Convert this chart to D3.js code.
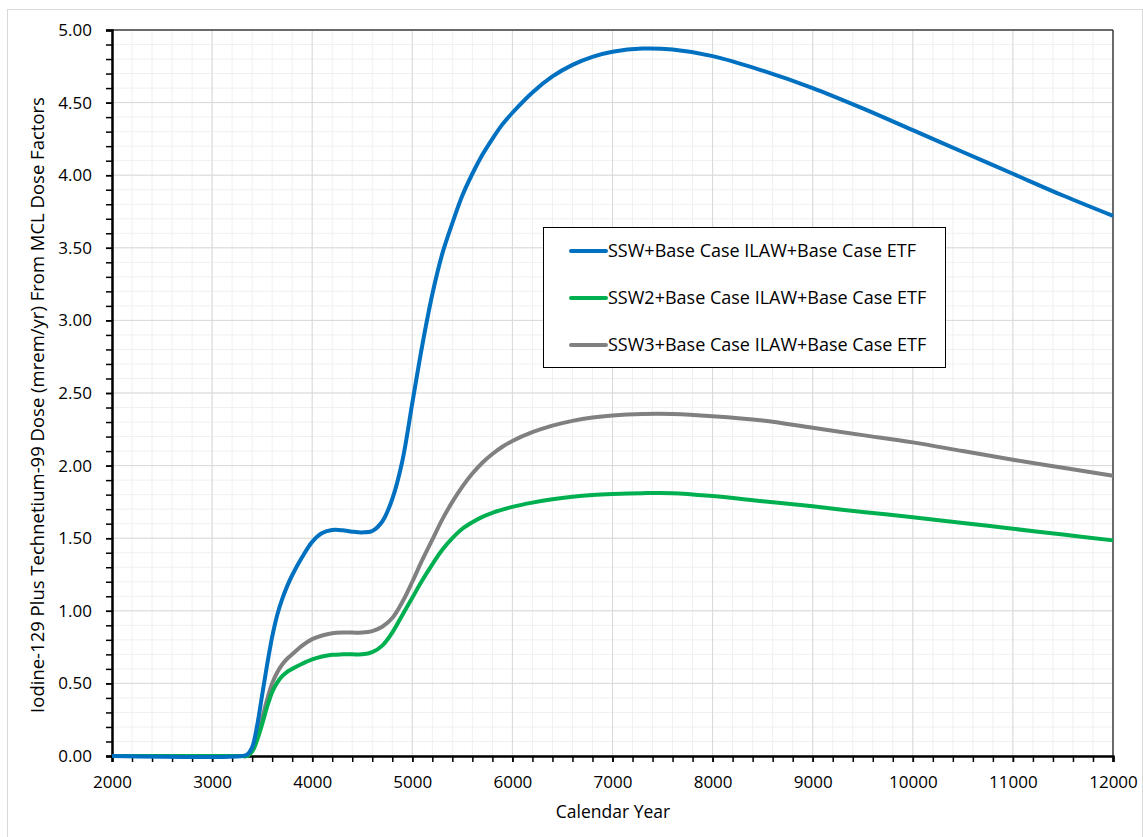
<!DOCTYPE html>
<html>
<head>
<meta charset="utf-8">
<script src="https://cdn.jsdelivr.net/npm/d3@7"></script>
<style>
  body { margin: 0; background: #fff; }
  svg text { font-family: "Open Sans", "Noto Sans", sans-serif; fill: #000; }
</style>
</head>
<body>
<div id="chart"></div>
<script>
// data
const years = [2000, 3300, 3350, 3400, 3450, 3500, 3550, 3600, 3650, 3700, 3750, 3800, 3900, 4000, 4100, 4200, 4300, 4400, 4500, 4600, 4700, 4800, 4900, 5000, 5100, 5200, 5300, 5400, 5500, 5600, 5700, 5800, 5900, 6000, 6200, 6400, 6600, 6800, 7000, 7300, 7600, 8000, 8500, 9000, 9500, 10000, 10500, 11000, 11500, 12000];
const ssw  = [0, 0, 0.01, 0.06, 0.21, 0.42, 0.63, 0.82, 0.97, 1.08, 1.17, 1.245, 1.37, 1.475, 1.535, 1.556, 1.555, 1.545, 1.54, 1.55, 1.615, 1.77, 2.03, 2.43, 2.83, 3.18, 3.46, 3.67, 3.86, 4.01, 4.14, 4.25, 4.35, 4.43, 4.57, 4.68, 4.76, 4.815, 4.85, 4.872, 4.865, 4.82, 4.72, 4.60, 4.46, 4.31, 4.16, 4.01, 3.86, 3.72];
const ssw2 = [0, 0, 0, 0.03, 0.11, 0.22, 0.34, 0.44, 0.505, 0.55, 0.58, 0.60, 0.635, 0.665, 0.685, 0.697, 0.70, 0.70, 0.70, 0.715, 0.76, 0.85, 0.97, 1.09, 1.21, 1.32, 1.42, 1.50, 1.565, 1.61, 1.647, 1.675, 1.697, 1.716, 1.745, 1.768, 1.785, 1.797, 1.804, 1.81, 1.81, 1.79, 1.755, 1.72, 1.68, 1.645, 1.605, 1.565, 1.525, 1.485];
const ssw3 = [0, 0, 0, 0.04, 0.14, 0.26, 0.39, 0.50, 0.575, 0.63, 0.67, 0.70, 0.76, 0.805, 0.83, 0.845, 0.85, 0.85, 0.85, 0.86, 0.89, 0.95, 1.06, 1.20, 1.35, 1.49, 1.63, 1.75, 1.855, 1.945, 2.02, 2.08, 2.13, 2.17, 2.23, 2.275, 2.308, 2.331, 2.345, 2.355, 2.355, 2.34, 2.31, 2.26, 2.21, 2.16, 2.10, 2.04, 1.985, 1.93];
const seriesNames = ["SSW+Base Case ILAW+Base Case ETF", "SSW2+Base Case ILAW+Base Case ETF", "SSW3+Base Case ILAW+Base Case ETF"];
const colors = ["#0070c0", "#00b050", "#808080"];
const xTicks = d3.range(2000, 12001, 1000);
const yTicks = d3.range(0, 5.001, 0.5);

const width = 1143, height = 837;
const margin = {top: 30, right: 30, bottom: 81, left: 112};

const svg = d3.select("#chart").append("svg")
  .attr("width", width)
  .attr("height", height);

// outer chart border
svg.append("rect")
  .attr("x", 7.5).attr("y", 9.5)
  .attr("width", width - 8).attr("height", height - 9)
  .attr("fill", "none").attr("stroke", "#d9d9d9");

const x = d3.scaleLinear().domain([2000, 12000]).range([margin.left, width - margin.right]);
const y = d3.scaleLinear().domain([0, 5]).range([height - margin.bottom, margin.top]);

// minor grid
const g = svg.append("g");
g.selectAll(".vmin").data(d3.range(2000, 12001, 200)).enter().append("line")
  .attr("x1", d => x(d)).attr("x2", d => x(d))
  .attr("y1", y(0)).attr("y2", y(5))
  .attr("stroke", "#f0f0f0");
g.selectAll(".hmin").data(d3.range(0, 5.001, 0.1)).enter().append("line")
  .attr("x1", x(2000)).attr("x2", x(12000))
  .attr("y1", d => y(d)).attr("y2", d => y(d))
  .attr("stroke", "#f0f0f0");
// major grid
g.selectAll(".vmaj").data(xTicks).enter().append("line")
  .attr("x1", d => x(d)).attr("x2", d => x(d))
  .attr("y1", y(0)).attr("y2", y(5))
  .attr("stroke", "#d9d9d9");
g.selectAll(".hmaj").data(yTicks).enter().append("line")
  .attr("x1", x(2000)).attr("x2", x(12000))
  .attr("y1", d => y(d)).attr("y2", d => y(d))
  .attr("stroke", "#d9d9d9");

// plot area frame (top + right)
svg.append("line").attr("x1", x(2000)).attr("x2", x(12000)).attr("y1", y(5)).attr("y2", y(5))
  .attr("stroke", "#404040").attr("stroke-width", 1.5);
svg.append("line").attr("x1", x(12000)).attr("x2", x(12000)).attr("y1", y(5)).attr("y2", y(0))
  .attr("stroke", "#404040").attr("stroke-width", 1.5);

// axes
const xAxis = svg.append("g").attr("transform", `translate(0,${y(0)})`)
  .call(d3.axisBottom(x).tickValues(d3.range(2000, 12001, 200)).tickSize(6).tickFormat(""));
const xLab = svg.append("g").attr("transform", `translate(0,${y(0)})`)
  .call(d3.axisBottom(x).tickValues(xTicks).tickSize(6).tickPadding(12).tickFormat(d3.format("d")));
const yAxis = svg.append("g").attr("transform", `translate(${x(2000)},0)`)
  .call(d3.axisLeft(y).tickValues(d3.range(0, 5.001, 0.1)).tickSize(6).tickFormat(""));
const yLab = svg.append("g").attr("transform", `translate(${x(2000)},0)`)
  .call(d3.axisLeft(y).tickValues(yTicks).tickSize(6).tickPadding(14).tickFormat(d3.format(".2f")));

[xAxis, xLab, yAxis, yLab].forEach(a => {
  a.selectAll(".domain").attr("stroke", "#000").attr("stroke-width", 2);
  a.selectAll(".tick line").attr("stroke", "#000").attr("stroke-width", 1.5);
  a.selectAll("text").attr("font-size", 17).attr("font-family", "Open Sans, sans-serif").attr("fill", "#000");
});
xLab.selectAll("text").attr("dy", "0.85em");

// lines
const line = d3.line().x((d, i) => x(years[i])).y(d => y(d)).curve(d3.curveCatmullRom.alpha(0.5));
[ssw3, ssw2, ssw].forEach((s, k) => {
  const idx = 2 - k;
  svg.append("path").datum(s)
    .attr("d", line)
    .attr("fill", "none")
    .attr("stroke", colors[idx])
    .attr("stroke-width", 4)
    .attr("stroke-linejoin", "round");
});

// axis titles
svg.append("text")
  .attr("x", 613).attr("y", 818)
  .attr("text-anchor", "middle").attr("font-size", 17.5)
  .text("Calendar Year");
svg.append("text")
  .attr("transform", `translate(44,405) rotate(-90)`)
  .attr("text-anchor", "middle").attr("font-size", 18.5)
  .text("Iodine-129 Plus Technetium-99 Dose (mrem/yr)  From MCL Dose Factors");

// legend
const lg = svg.append("g");
lg.append("rect")
  .attr("x", 543.5).attr("y", 227.5).attr("width", 402).attr("height", 140)
  .attr("fill", "#fff").attr("stroke", "#000");
seriesNames.forEach((name, i) => {
  const ly = 251 + i * 47;
  lg.append("line").attr("x1", 571).attr("x2", 606).attr("y1", ly).attr("y2", ly)
    .attr("stroke", colors[i]).attr("stroke-width", 4).attr("stroke-linecap", "round");
  lg.append("text").attr("x", 608).attr("y", ly).attr("dy", "0.35em")
    .attr("font-size", 18).text(name);
});
</script>
</body>
</html>
